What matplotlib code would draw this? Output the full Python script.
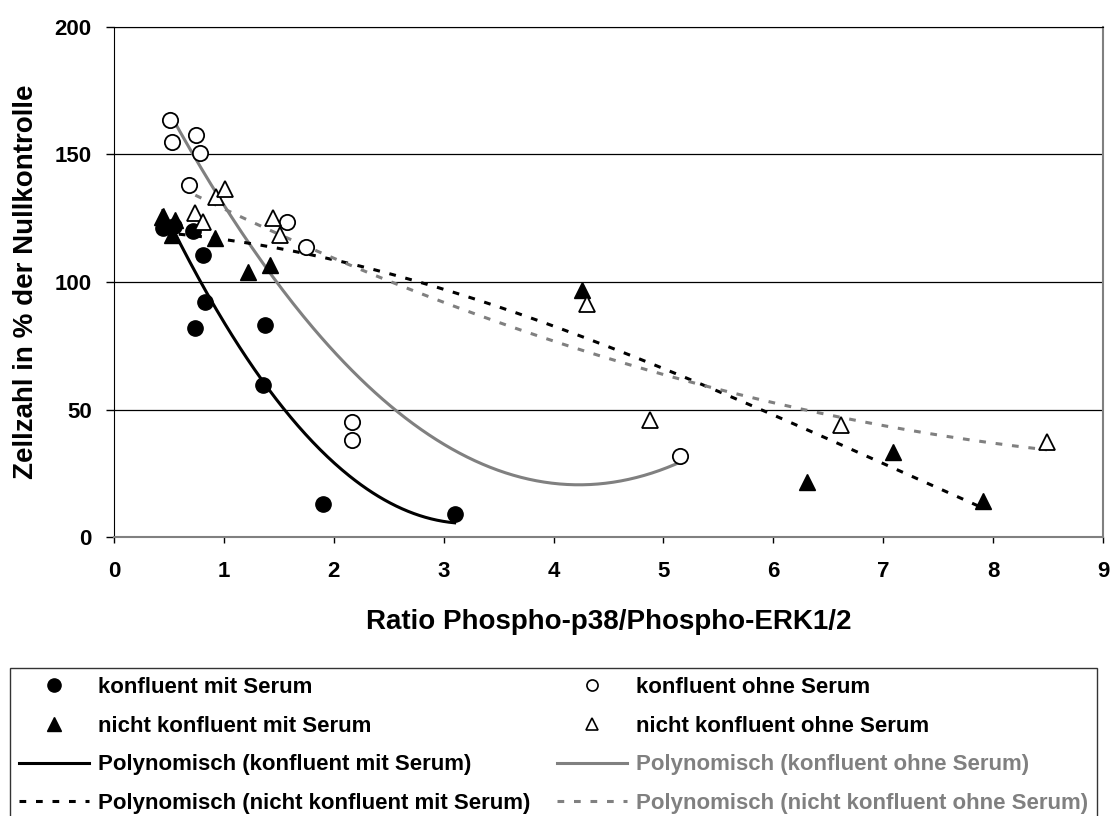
import matplotlib
matplotlib.use('Agg')
import matplotlib.pyplot as plt
import numpy as np
from matplotlib.lines import Line2D

plt.rcParams['font.family'] = ['Liberation Sans', 'DejaVu Sans']
plt.rcParams['font.weight'] = 'bold'

# Data
x_konf_mit = [0.45, 0.55, 0.72, 0.81, 0.83, 0.74, 1.37, 1.36, 1.90, 3.10]
y_konf_mit = [121, 122, 120, 110.5, 92, 82, 83, 59.5, 13, 9]

x_konf_ohne = [0.51, 0.525, 0.75, 0.78, 0.68, 1.57, 1.75, 2.17, 2.17, 5.15]
y_konf_ohne = [163.5, 155, 157.5, 150.5, 138, 123.6, 113.8, 45, 38, 31.8]

x_nk_mit = [0.44, 0.555, 0.525, 0.92, 1.22, 1.42, 4.26, 6.31, 7.09, 7.91]
y_nk_mit = [125.6, 124.3, 118.4, 117.1, 104, 106.7, 96.9, 21.7, 33.5, 14.2]

x_nk_ohne = [0.74, 0.81, 0.93, 1.01, 1.45, 1.51, 4.30, 4.88, 6.62, 8.49]
y_nk_ohne = [127, 123.6, 133.5, 136.3, 125, 118.4, 91.4, 45.9, 43.9, 37.4]

x_ticks = list(range(0, 10))
y_ticks = [0, 50, 100, 150, 200]

GRAY = '#808080'


def trend(xs, ys, order):
    # Excel-style polynomial trendline over the data range
    coef = np.polyfit(xs, ys, order)
    xx = np.linspace(min(xs), max(xs), 200)
    return xx, np.polyval(coef, xx)


fig = plt.figure(figsize=(11.1, 8.16), dpi=100)
ax = fig.add_axes([114 / 1110, 1 - 537 / 816, 989 / 1110, 510 / 816])

dash = (2.2, 3.2)

xx, yy = trend(x_konf_mit, y_konf_mit, 2)
ax.plot(xx, yy, color='black', lw=2.2, zorder=2)
xx, yy = trend(x_konf_ohne, y_konf_ohne, 2)
ax.plot(xx, yy, color=GRAY, lw=2.2, zorder=2)
xx, yy = trend(x_nk_mit, y_nk_mit, 3)
ax.plot(xx, yy, color='black', lw=2.2, dashes=dash, zorder=2)
xx, yy = trend(x_nk_ohne, y_nk_ohne, 2)
ax.plot(xx, yy, color=GRAY, lw=2.2, dashes=dash, zorder=2)

ax.plot(x_konf_mit, y_konf_mit, 'o', ms=11, color='black', ls='none', zorder=3)
ax.plot(x_konf_ohne, y_konf_ohne, 'o', ms=11, mfc='white', mec='black',
        mew=1.3, ls='none', zorder=3)
ax.plot(x_nk_mit, y_nk_mit, '^', ms=12, color='black', ls='none', zorder=3)
ax.plot(x_nk_ohne, y_nk_ohne, '^', ms=12, mfc='white', mec='black',
        mew=1.3, ls='none', zorder=3)

ax.set_xlim(0, 9)
ax.set_ylim(0, 200)
ax.set_xticks(x_ticks)
ax.set_yticks(y_ticks)
ax.tick_params(axis='both', direction='out', width=1, labelsize=16)
ax.tick_params(axis='y', length=6, pad=10)
ax.tick_params(axis='x', length=4.5, pad=12.5)
ax.yaxis.grid(True, color='black', lw=0.9)
ax.set_axisbelow(True)
ax.spines['left'].set_color('black')
ax.spines['top'].set_color('black')
ax.spines['bottom'].set_color(GRAY)
ax.spines['right'].set_color(GRAY)
ax.spines['right'].set_linewidth(1.5)
ax.spines['bottom'].set_linewidth(1.5)

ax.set_xlabel('Ratio Phospho-p38/Phospho-ERK1/2', fontsize=20, fontweight='bold',
              labelpad=20)
ax.set_ylabel('Zellzahl in % der Nullkontrolle', fontsize=20, fontweight='bold',
              labelpad=11)

handles = [
    Line2D([], [], marker='o', color='black', ls='none', ms=9.5),
    Line2D([], [], marker='^', color='black', ls='none', ms=10),
    Line2D([], [], color='black', lw=2.2),
    Line2D([], [], color='black', lw=2.2, dashes=dash),
    Line2D([], [], marker='o', mfc='white', mec='black', ls='none', ms=8, mew=1.2),
    Line2D([], [], marker='^', mfc='white', mec='black', ls='none', ms=9, mew=1.2),
    Line2D([], [], color=GRAY, lw=2.2),
    Line2D([], [], color=GRAY, lw=2.2, dashes=dash),
]
labels = [
    'konfluent mit Serum',
    'nicht konfluent mit Serum',
    'Polynomisch (konfluent mit Serum)',
    'Polynomisch (nicht konfluent mit Serum)',
    'konfluent ohne Serum',
    'nicht konfluent ohne Serum',
    'Polynomisch (konfluent ohne Serum)',
    'Polynomisch (nicht konfluent ohne Serum)',
]
leg = fig.legend(handles, labels, ncol=2, loc='upper left',
                 bbox_to_anchor=(10 / 1110, 1 - 668 / 816),
                 prop={'size': 16, 'weight': 'bold'},
                 frameon=True, fancybox=False, edgecolor='black',
                 handlelength=3.15, handletextpad=0.4, columnspacing=1.2,
                 labelspacing=0.8, borderpad=0.4, borderaxespad=0)
leg.get_frame().set_linewidth(1.0)
for t, lab in zip(leg.get_texts(), labels):
    if lab.startswith('Polynomisch') and 'ohne' in lab:
        t.set_color(GRAY)

fig.savefig('out.png', dpi=100)
